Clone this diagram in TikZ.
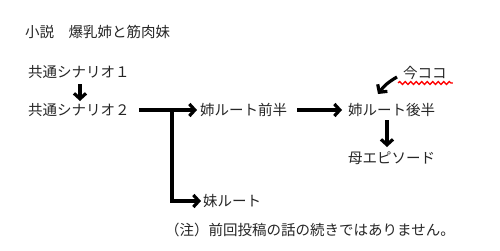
\documentclass[tikz,border=0pt]{standalone}
\usepackage{fontspec}
\setmainfont{Noto Sans CJK JP}
\usetikzlibrary{arrows.meta,decorations.pathmorphing}
\begin{document}
\begin{tikzpicture}[x=1pt,y=-1pt,
  font=\fontsize{14.5}{17}\selectfont,
  lbl/.style={inner sep=0pt, anchor=west, text=black!85},
  arr/.style={line width=3.2pt, -{Straight Barb[length=5.5pt,width=12pt]}},
  wavy/.style={red, line width=1.3pt, decorate, decoration={snake, amplitude=1.5pt, segment length=5.5pt}}]
\useasboundingbox[fill=white] (0,0) rectangle (500,250);
\node[lbl] (title) at (25,32) {小説　爆乳姉と筋肉妹};
\node[lbl] (s1) at (28,72) {共通シナリオ１};
\node[lbl] (s2) at (28,110) {共通シナリオ２};
\node[lbl] (af) at (200,110) {姉ルート前半};
\node[lbl] (al) at (348,110) {姉ルート後半};
\node[lbl] (mo) at (348,158) {母エピソード};
\node[lbl] (im) at (403,73) {今ココ};
\node[lbl] (imo) at (203,201) {妹ルート};
\node[lbl] (note) at (165,230) {（注）前回投稿の話の続きではありません。};
\coordinate (br) at (172,110);
\draw[arr] ([shift={(52,12)}]s1.west) -- ([shift={(52,-9)}]s2.west);
\draw[arr] ([xshift=9]s2.east) -- ([xshift=-3]af.west);
\draw[line width=3.2pt] (br) |- ([xshift=-12]imo.west);
\draw[arr] ([xshift=-13]imo.west) -- ([xshift=-2]imo.west);
\draw[arr] ([xshift=10]af.east) -- ([xshift=-6]al.west);
\draw[arr] ([shift={(39,10)}]al.west) -- ([shift={(39,-11)}]mo.west);
\draw[arr] ([shift={(-6,4)}]im.west) to[bend right=12] ([shift={(-25,21)}]im.west);
\draw[wavy] ([shift={(-5,10)}]im.west) -- ([shift={(6,10)}]im.east);
\end{tikzpicture}
\end{document}
